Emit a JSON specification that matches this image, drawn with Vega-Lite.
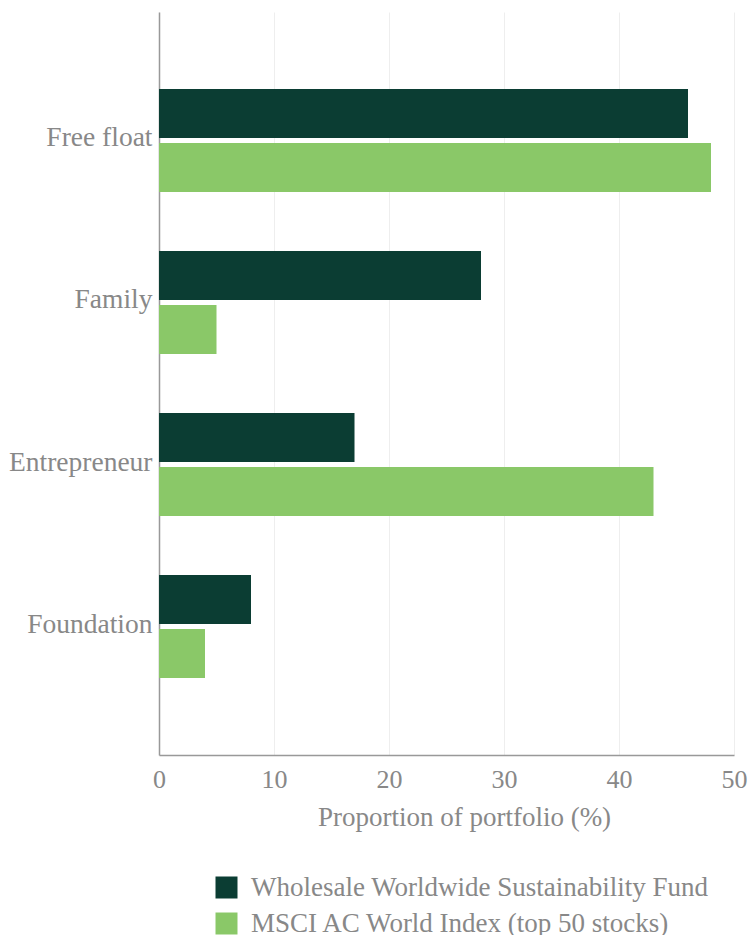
{
  "$schema": "https://vega.github.io/schema/vega-lite/v6.json",
  "autosize": {"type": "none"},
  "padding": {"left": 159, "top": 12, "right": 15, "bottom": 180},
  "width": 575,
  "height": 743,
  "background": "white",
  "config": {
    "font": "Liberation Serif",
    "view": {"stroke": null}
  },
  "data": {
    "values": [
      {"category": "Free float", "series": "Wholesale Worldwide Sustainability Fund", "value": 46},
      {"category": "Free float", "series": "MSCI AC World Index (top 50 stocks)", "value": 48},
      {"category": "Family", "series": "Wholesale Worldwide Sustainability Fund", "value": 28},
      {"category": "Family", "series": "MSCI AC World Index (top 50 stocks)", "value": 5},
      {"category": "Entrepreneur", "series": "Wholesale Worldwide Sustainability Fund", "value": 17},
      {"category": "Entrepreneur", "series": "MSCI AC World Index (top 50 stocks)", "value": 43},
      {"category": "Foundation", "series": "Wholesale Worldwide Sustainability Fund", "value": 8},
      {"category": "Foundation", "series": "MSCI AC World Index (top 50 stocks)", "value": 4}
    ]
  },
  "mark": {"type": "bar"},
  "encoding": {
    "y": {
      "field": "category",
      "type": "nominal",
      "sort": ["Free float", "Family", "Entrepreneur", "Foundation"],
      "scale": {"paddingInner": 0.364, "paddingOuter": 0.475},
      "axis": {
        "title": null,
        "ticks": false,
        "domainColor": "#999999",
        "domainWidth": 1.5,
        "labelFontSize": 27.5,
        "labelColor": "#888888",
        "labelPadding": 7,
        "labelOffset": -2,
        "labelFont": "Liberation Serif"
      }
    },
    "yOffset": {
      "field": "series",
      "type": "nominal",
      "sort": ["Wholesale Worldwide Sustainability Fund", "MSCI AC World Index (top 50 stocks)"],
      "scale": {"paddingInner": 0.093, "paddingOuter": 0}
    },
    "x": {
      "field": "value",
      "type": "quantitative",
      "scale": {"domain": [0, 50], "nice": false},
      "axis": {
        "title": "Proportion of portfolio (%)",
        "values": [0, 10, 20, 30, 40, 50],
        "ticks": false,
        "grid": true,
        "gridColor": "#eeeeee",
        "domainColor": "#999999",
        "domainWidth": 1.5,
        "labelFlush": false,
        "labelFontSize": 26,
        "labelColor": "#888888",
        "labelPadding": 11,
        "labelFont": "Liberation Serif",
        "titleFontSize": 27,
        "titleFontWeight": "normal",
        "titleColor": "#888888",
        "titleFont": "Liberation Serif",
        "titlePadding": 12,
        "titleX": 305
      }
    },
    "color": {
      "field": "series",
      "type": "nominal",
      "sort": ["Wholesale Worldwide Sustainability Fund", "MSCI AC World Index (top 50 stocks)"],
      "scale": {
        "domain": ["Wholesale Worldwide Sustainability Fund", "MSCI AC World Index (top 50 stocks)"],
        "range": ["#0b3d33", "#8ac868"]
      },
      "legend": {
        "title": null,
        "orient": "none",
        "legendX": 54,
        "legendY": 862,
        "direction": "vertical",
        "symbolType": "square",
        "symbolSize": 484,
        "symbolStrokeWidth": 0,
        "labelFontSize": 27,
        "labelColor": "#888888",
        "labelFont": "Liberation Serif",
        "labelOffset": 11,
        "rowPadding": 8,
        "labelLimit": 600
      }
    }
  }
}
